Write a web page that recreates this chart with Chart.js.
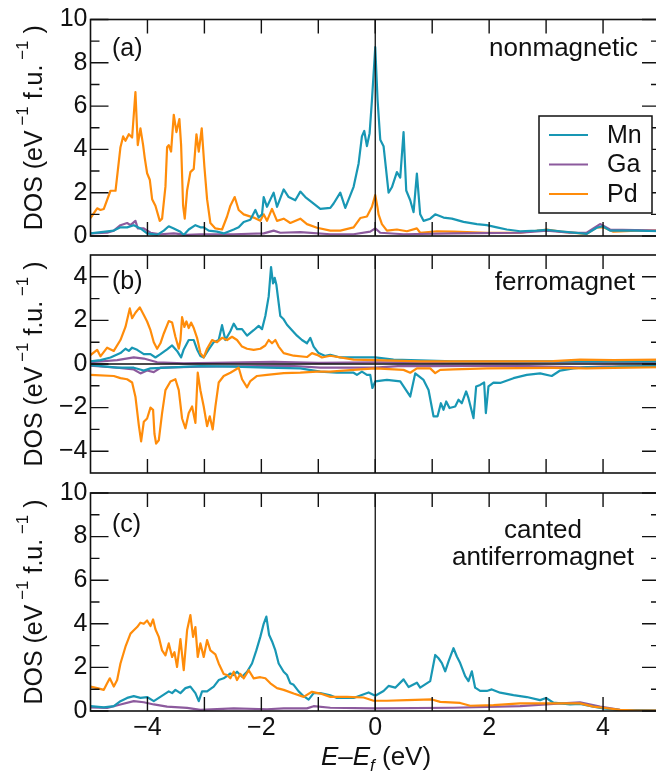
<!DOCTYPE html>
<html lang="en">
<head>
<meta charset="UTF-8">
<title>Mn-Ga-Pd density of states</title>
<style>
  html, body { margin: 0; padding: 0; background: #fff; }
  body { width: 656px; height: 777px; overflow: hidden; position: relative; }
  canvas { position: absolute; left: 0; top: 0; }
</style>
</head>
<body>
<canvas id="panelA" width="664" height="777"></canvas>
<canvas id="panelB" width="664" height="777"></canvas>
<canvas id="panelC" width="664" height="777"></canvas>

<script src="https://cdn.jsdelivr.net/npm/chart.js"></script>
<script>
// ---- (a) nonmagnetic ----
const mnA_E = [-5.0,-4.591,-4.474,-4.357,-4.240,-4.123,-4.006,-3.830,-3.713,-3.626,-3.538,-3.421,-3.363,-3.275,-3.158,-3.070,-3.012,-2.924,-2.778,-2.661,-2.485,-2.398,-2.310,-2.193,-2.105,-2.047,-1.988,-1.959,-1.901,-1.830,-1.784,-1.725,-1.678,-1.608,-1.520,-1.404,-1.316,-1.228,-1.082,-0.965,-0.789,-0.731,-0.614,-0.526,-0.380,-0.292,-0.234,-0.193,-0.146,-0.099,-0.058,0,0.041,0.088,0.146,0.234,0.292,0.380,0.439,0.497,0.544,0.614,0.673,0.731,0.789,0.848,0.965,1.053,1.199,1.345,1.550,1.784,1.959,2.135,2.310,2.544,2.836,3.012,3.246,3.713,3.889,3.994,4.123,4.591,5.0];
const mnA_D = [0.12,0.25,0.4,0.4,0.5,0.35,0.12,0.05,0.25,0.45,0.35,0.2,0.05,0.3,0.5,0.4,0.4,0.25,0.2,0.12,0.3,0.4,0.65,0.75,1.2,0.85,1.0,1.8,1.35,1.75,2.0,1.35,1.67,2.15,1.8,1.65,2.05,1.8,1.5,1.25,1.3,1.5,2.0,1.3,2.27,3.35,4.6,4.85,4.15,4.75,6.27,8.72,6.27,4.45,4.15,2.0,2.25,2.95,2.7,4.8,2.1,1.65,1.1,2.88,1.0,0.7,0.8,1.0,0.85,0.8,0.65,0.55,0.5,0.4,0.3,0.22,0.25,0.28,0.22,0.1,0.38,0.45,0.25,0.25,0.22];

const gaA_E = [-5.0,-4.708,-4.591,-4.474,-4.357,-4.298,-4.211,-4.170,-4.064,-3.947,-3.772,-3.538,-3.304,-3.070,-2.485,-1.959,-1.784,-1.667,-1.316,-0.789,-0.380,-0.088,0,0.088,0.497,1.374,2.544,3.012,3.421,3.713,3.947,4.123,5.0];
const gaA_D = [0.12,0.15,0.25,0.5,0.6,0.5,0.7,0.35,0.35,0.15,0.08,0.12,0.05,0.08,0.08,0.12,0.25,0.15,0.18,0.08,0.08,0.2,0.35,0.15,0.08,0.12,0.15,0.25,0.15,0.15,0.55,0.3,0.25];

const pdA_E = [-5.0,-4.883,-4.825,-4.766,-4.649,-4.561,-4.474,-4.427,-4.386,-4.327,-4.269,-4.211,-4.170,-4.123,-4.076,-4.047,-4.006,-3.959,-3.918,-3.860,-3.784,-3.743,-3.684,-3.655,-3.626,-3.585,-3.538,-3.491,-3.439,-3.409,-3.374,-3.345,-3.304,-3.246,-3.187,-3.140,-3.099,-3.047,-3.0,-2.953,-2.895,-2.807,-2.690,-2.602,-2.544,-2.468,-2.398,-2.310,-2.135,-2.018,-1.959,-1.901,-1.813,-1.725,-1.608,-1.491,-1.316,-1.199,-1.023,-0.789,-0.614,-0.380,-0.263,-0.146,-0.058,0,0.041,0.058,0.117,0.205,0.380,0.556,0.731,0.789,1.082,1.374,1.959,2.544,3.012,3.246,3.713,3.889,4.006,4.181,4.591,5.0];
const pdA_D = [0.83,1.28,1.2,1.25,2.09,2.09,4.1,4.6,4.4,4.7,4.55,6.65,4.2,4.97,4.2,3.6,2.9,2.6,1.7,1.4,0.7,0.8,2.28,4.1,4.2,3.9,5.6,4.8,5.4,4.2,1.4,0.8,2.1,2.95,3.1,4.7,3.9,4.97,3.2,1.7,0.6,0.35,0.3,0.9,1.4,1.8,1.2,1.0,0.85,0.7,1.0,0.7,1.25,0.7,0.8,0.6,0.8,0.55,0.38,0.25,0.25,0.4,0.83,0.9,1.35,1.89,1.3,1.0,0.55,0.25,0.3,0.22,0.35,0.15,0.22,0.2,0.15,0.15,0.3,0.2,0.1,0.4,0.4,0.2,0.25,0.25];

// ---- (b) ferromagnet: majority (up) and minority (down) ----
const mnUpB_E = [-5.0,-4.825,-4.649,-4.474,-4.386,-4.327,-4.269,-4.181,-4.064,-3.947,-3.860,-3.772,-3.655,-3.567,-3.480,-3.409,-3.363,-3.275,-3.187,-3.129,-3.070,-3.012,-2.924,-2.836,-2.749,-2.690,-2.632,-2.544,-2.485,-2.427,-2.339,-2.251,-2.135,-2.047,-1.988,-1.930,-1.871,-1.830,-1.795,-1.766,-1.737,-1.708,-1.667,-1.608,-1.550,-1.462,-1.374,-1.287,-1.199,-1.140,-1.082,-0.994,-0.877,-0.789,-0.614,-0.263,0,0.322,1.374,3.129,5.0];
const mnUpB_D = [0.12,0.18,0.3,0.5,0.7,0.6,0.75,0.65,0.45,0.45,0.3,0.45,0.67,0.85,0.6,0.3,0.67,1.1,1.1,0.67,0.37,0.3,0.67,1.0,1.1,1.78,1.1,1.5,1.85,1.6,1.6,1.3,1.55,1.75,1.6,2.2,3.1,4.45,3.7,3.95,3.65,3.05,2.2,2.05,1.8,1.55,1.3,1.1,0.95,1.2,0.8,0.5,0.37,0.42,0.3,0.3,0.3,0.2,0.12,0.12,0.12];

const mnDnB_E = [-5.0,-4.532,-4.240,-4.064,-3.947,-3.655,-3.070,-2.485,-1.901,-1.316,-0.965,-0.673,-0.380,-0.322,-0.234,-0.146,-0.088,-0.050,0,0.205,0.439,0.614,0.702,0.848,0.936,1.023,1.094,1.152,1.199,1.246,1.304,1.404,1.462,1.520,1.596,1.637,1.725,1.772,1.842,1.912,1.942,1.988,2.076,2.193,2.427,2.661,2.895,3.099,3.246,3.480,3.713,4.006,4.298,5.0];
const mnDnB_D = [-0.05,-0.17,-0.17,-0.3,-0.2,-0.17,-0.1,-0.12,-0.17,-0.2,-0.35,-0.4,-0.4,-0.5,-0.35,-0.5,-0.5,-1.1,-0.8,-0.73,-0.8,-1.49,-0.43,-0.73,-1.19,-2.4,-2.4,-1.8,-2.1,-1.72,-2.02,-1.95,-1.64,-1.8,-1.26,-1.57,-2.48,-1.03,-0.96,-0.85,-2.25,-1.03,-0.85,-0.87,-0.65,-0.5,-0.43,-0.55,-0.3,-0.2,-0.15,-0.17,-0.12,-0.1];

const gaUpB_E = [-5.0,-4.532,-4.240,-4.064,-3.830,-3.363,-1.784,-1.0,0,2.0,3.6,5.0];
const gaUpB_D = [0.08,0.18,0.3,0.25,0.08,0.03,0.1,0.05,0.08,0.05,0.1,0.05];

const gaDnB_E = [-5.0,-4.532,-4.240,-4.123,-4.006,-3.889,-3.772,-3.070,-1.5,-0.965,0,0.4,1.0,2.5,3.6,4.0,5.0];
const gaDnB_D = [-0.08,-0.17,-0.25,-0.43,-0.3,-0.37,-0.17,-0.12,-0.08,-0.17,-0.17,-0.1,-0.1,-0.08,-0.15,-0.12,-0.1];

const pdUpB_E = [-5.0,-4.883,-4.825,-4.708,-4.591,-4.474,-4.386,-4.310,-4.269,-4.211,-4.135,-4.064,-4.006,-3.947,-3.889,-3.830,-3.772,-3.713,-3.626,-3.567,-3.509,-3.450,-3.421,-3.392,-3.351,-3.316,-3.275,-3.234,-3.187,-3.129,-3.070,-3.012,-2.953,-2.865,-2.778,-2.690,-2.602,-2.515,-2.427,-2.339,-2.251,-2.135,-2.018,-1.930,-1.871,-1.813,-1.754,-1.696,-1.608,-1.433,-1.199,-1.111,-1.023,-0.936,-0.789,-0.380,0,0.789,1.959,3.129,3.596,4.181,5.0];
const pdUpB_D = [0.41,0.65,0.35,0.75,0.6,1.1,1.7,2.55,2.1,2.35,2.6,2.25,1.95,1.55,1.0,0.7,0.95,1.4,1.97,1.9,1.25,0.7,1.1,2.15,1.7,1.95,1.65,1.9,1.65,1.2,0.5,0.3,0.7,1.1,1.0,1.2,1.1,1.25,1.1,0.8,0.7,0.65,0.7,0.85,1.1,0.95,1.1,0.8,0.5,0.38,0.32,0.5,0.42,0.3,0.38,0.2,0.18,0.12,0.12,0.13,0.2,0.18,0.2];

const pdDnB_E = [-5.0,-4.591,-4.474,-4.357,-4.269,-4.211,-4.152,-4.111,-4.064,-4.006,-3.947,-3.901,-3.877,-3.848,-3.801,-3.743,-3.684,-3.596,-3.509,-3.450,-3.392,-3.333,-3.275,-3.216,-3.158,-3.117,-3.070,-3.012,-2.953,-2.906,-2.854,-2.807,-2.749,-2.661,-2.544,-2.398,-2.339,-2.251,-2.193,-2.076,-1.901,-1.608,-1.316,-1.023,-0.789,-0.263,0,0.497,0.614,0.731,0.965,1.053,1.140,1.374,1.959,3.129,3.713,4.181,5.0];
const pdDnB_D = [-0.5,-0.55,-0.65,-0.7,-0.85,-1.5,-2.8,-3.55,-2.65,-2.5,-2.0,-2.1,-3.2,-3.65,-3.5,-2.25,-1.2,-0.8,-0.7,-1.2,-2.5,-2.95,-2.25,-1.95,-2.7,-0.4,-1.2,-1.95,-2.85,-2.4,-3.0,-1.95,-0.85,-0.55,-0.4,-0.17,-0.7,-1.07,-0.78,-0.55,-0.5,-0.42,-0.4,-0.35,-0.35,-0.25,-0.2,-0.27,-0.4,-0.2,-0.2,-0.42,-0.27,-0.25,-0.2,-0.18,-0.2,-0.18,-0.15];

// ---- (c) canted antiferromagnet ----
const mnC_E = [-5.0,-4.766,-4.591,-4.474,-4.357,-4.240,-4.123,-4.006,-3.889,-3.801,-3.713,-3.626,-3.567,-3.509,-3.421,-3.333,-3.246,-3.158,-3.099,-3.041,-2.953,-2.836,-2.749,-2.661,-2.544,-2.485,-2.427,-2.339,-2.251,-2.164,-2.088,-2.018,-1.959,-1.912,-1.865,-1.813,-1.754,-1.696,-1.608,-1.550,-1.491,-1.433,-1.345,-1.257,-1.170,-1.082,-0.965,-0.789,-0.673,-0.380,-0.117,0,0.146,0.234,0.351,0.497,0.585,0.731,0.789,0.965,1.053,1.111,1.170,1.228,1.287,1.374,1.433,1.491,1.579,1.637,1.696,1.754,1.842,1.959,2.047,2.193,2.427,2.661,2.895,2.999,3.129,3.421,3.596,3.830,4.006,4.298,5.0];
const mnC_D = [0.22,0.17,0.22,0.45,0.6,0.68,0.6,0.64,0.45,0.6,0.75,0.9,0.82,0.97,0.82,1.05,1.12,0.82,0.45,0.9,0.9,1.12,1.42,1.5,1.72,1.65,1.8,1.57,1.8,2.18,2.78,3.4,4.0,4.33,3.5,3.2,2.78,2.18,1.8,1.65,1.27,1.2,0.9,0.68,0.52,0.82,0.82,0.72,0.6,0.6,0.85,0.7,0.92,1.15,1.07,1.45,1.1,1.3,1.07,1.37,2.57,2.42,2.2,1.82,2.28,2.88,2.5,2.2,1.6,1.37,1.82,1.07,0.92,0.92,0.99,0.84,0.73,0.64,0.5,0.6,0.38,0.3,0.33,0.2,0.12,0.04,0.02];

const gaC_E = [-5.0,-4.708,-4.474,-4.240,-4.064,-3.889,-3.655,-3.304,-3.070,-2.485,-1.901,-1.608,-1.199,-1.082,-0.789,0,1.374,2.544,3.129,3.596,3.947,4.298,5.0];
const gaC_D = [0.17,0.14,0.3,0.45,0.4,0.3,0.2,0.14,0.05,0.12,0.08,0.12,0.12,0.22,0.15,0.12,0.15,0.22,0.33,0.4,0.2,0.05,0.02];

const pdC_E = [-5.0,-4.883,-4.766,-4.708,-4.661,-4.591,-4.532,-4.474,-4.386,-4.298,-4.240,-4.181,-4.123,-4.064,-4.006,-3.947,-3.901,-3.860,-3.801,-3.743,-3.684,-3.626,-3.567,-3.526,-3.480,-3.421,-3.363,-3.304,-3.246,-3.199,-3.158,-3.117,-3.070,-3.012,-2.953,-2.895,-2.807,-2.749,-2.661,-2.602,-2.544,-2.485,-2.427,-2.368,-2.310,-2.222,-2.135,-2.018,-1.930,-1.842,-1.725,-1.608,-1.433,-1.257,-1.111,-0.965,-0.789,-0.497,-0.205,-0.029,0.205,0.556,0.994,1.140,1.491,1.667,2.076,2.544,3.129,3.596,3.830,4.006,4.298,4.591,5.0];
const pdC_D = [1.12,1.05,0.97,1.27,1.5,1.12,1.42,2.18,2.95,3.55,3.7,3.85,4.05,4.0,4.15,3.9,4.2,3.75,3.4,2.78,2.55,3.1,2.48,2.7,2.02,3.3,1.87,3.7,4.4,3.4,3.85,2.48,3.1,2.48,3.25,2.78,2.6,2.18,1.7,1.65,1.5,1.8,1.42,1.7,1.5,1.87,1.5,1.55,1.5,1.27,1.05,0.97,0.8,0.65,0.88,0.8,0.65,0.65,0.62,0.47,0.47,0.5,0.53,0.42,0.37,0.24,0.27,0.35,0.35,0.35,0.2,0.15,0.05,0.02,0.02];

// axis ticks
const xLabelVals = [-4, -2, 0, 2, 4];
const xMarkVals = [-4, -3, -2, -1, 0, 1, 2, 3, 4];
const yMajorDos = [0, 2, 4, 6, 8, 10];
const yMinorDos = [1, 3, 5, 7, 9];
const yMajorSpin = [-4, -2, 0, 2, 4];
const yMinorSpin = [-3, -1, 1, 3];

const COLORS = { Mn: '#1897b4', Ga: '#8c5a9d', Pd: '#ff8c0a' };
const FONT = '"Liberation Sans", Arial, Helvetica, sans-serif';
const INK = '#111';

function pts(es, ds) {
    return es.map(function (e, i) { return { x: e, y: ds[i] }; });
}

function series(label, es, ds) {
    return {
        label: label,
        data: pts(es, ds),
        borderColor: COLORS[label],
        borderWidth: 2.2,
        borderJoinStyle: 'round',
        pointRadius: 0,
        tension: 0,
        fill: false
    };
}

function fmt(v) {
    return v < 0 ? '\u2212' + Math.abs(v) : String(v);
}

// draw a run of text pieces [text, size, style, dy] side by side
function richText(ctx, parts, x, y, align) {
    var w = 0;
    parts.forEach(function (p) {
        ctx.font = (p[2] || '') + ' ' + p[1] + 'px ' + FONT;
        w += ctx.measureText(p[0]).width;
    });
    var cx = align === 'center' ? x - w / 2 : x;
    parts.forEach(function (p) {
        ctx.font = (p[2] || '') + ' ' + p[1] + 'px ' + FONT;
        ctx.fillText(p[0], cx, y + (p[3] || 0));
        cx += ctx.measureText(p[0]).width;
    });
}

const yTitle = [
    ['DOS (eV', 25], [' \u22121', 17, '', -14], [' f.u.', 25], [' \u22121', 17, '', -14], [' )', 25]
];
const xTitle = [
    ['E', 26, 'italic'], ['\u2013', 26], ['E', 26, 'italic'], ['f', 17, 'italic', 6], [' (eV)', 26]
];

// frame, inward ticks, zero lines, annotations
const decor = {
    id: 'decor',
    afterDatasetsDraw: function (chart, args, o) {
        var ctx = chart.ctx, a = chart.chartArea;
        var xs = chart.scales.x, ys = chart.scales.y;
        ctx.save();
        ctx.strokeStyle = INK;

        ctx.lineWidth = 1.3;
        ctx.beginPath();
        var x0 = xs.getPixelForValue(0);
        ctx.moveTo(x0, a.top);
        ctx.lineTo(x0, a.bottom);
        if (o.zeroLine) {
            var y0 = ys.getPixelForValue(0);
            ctx.moveTo(a.left, y0);
            ctx.lineTo(a.right, y0);
        }
        ctx.stroke();

        ctx.lineWidth = 1.4;
        ctx.beginPath();
        xMarkVals.forEach(function (v) {
            var px = xs.getPixelForValue(v);
            ctx.moveTo(px, a.bottom); ctx.lineTo(px, a.bottom - 14);
            ctx.moveTo(px, a.top); ctx.lineTo(px, a.top + 14);
        });
        o.yMajor.forEach(function (v) {
            var py = ys.getPixelForValue(v);
            ctx.moveTo(a.left, py); ctx.lineTo(a.left + 18, py);
            ctx.moveTo(a.right, py); ctx.lineTo(a.right - 18, py);
        });
        o.yMinor.forEach(function (v) {
            var py = ys.getPixelForValue(v);
            ctx.moveTo(a.left, py); ctx.lineTo(a.left + 9, py);
            ctx.moveTo(a.right, py); ctx.lineTo(a.right - 9, py);
        });
        ctx.stroke();

        ctx.lineWidth = 1.6;
        ctx.strokeRect(a.left, a.top, a.right - a.left, a.bottom - a.top);

        ctx.fillStyle = INK;
        ctx.textBaseline = 'alphabetic';
        ctx.textAlign = 'left';
        ctx.font = '25px ' + FONT;
        ctx.fillText(o.tag, a.left + 21.5, a.top + o.tagDy);

        ctx.font = '26px ' + FONT;
        ctx.textAlign = o.noteAlign;
        o.note.forEach(function (line, i) {
            ctx.fillText(line, o.noteX, a.top + o.noteDy + i * 27);
        });

        // rotated axis title
        ctx.save();
        ctx.translate(42, (a.top + a.bottom) / 2);
        ctx.rotate(-Math.PI / 2);
        ctx.textAlign = 'left';
        richText(ctx, yTitle, 0, 0, 'center');
        ctx.restore();

        if (o.legend) {
            ctx.fillStyle = '#fff';
            ctx.fillRect(539, 116, 113, 97);
            ctx.lineWidth = 1.5;
            ctx.strokeRect(539, 116, 113, 97);
            ctx.font = '25px ' + FONT;
            ctx.textAlign = 'left';
            ctx.textBaseline = 'middle';
            chart.data.datasets.forEach(function (ds, i) {
                var ly = 135 + i * 29.5;
                ctx.strokeStyle = ds.borderColor;
                ctx.lineWidth = 2.2;
                ctx.beginPath();
                ctx.moveTo(549, ly); ctx.lineTo(588, ly);
                ctx.stroke();
                ctx.fillStyle = INK;
                ctx.fillText(ds.label, 607, ly + 1);
            });
        }

        if (o.xTitle) {
            ctx.fillStyle = INK;
            ctx.textAlign = 'left';
            ctx.textBaseline = 'alphabetic';
            richText(ctx, xTitle, 376, 765, 'center');
        }
        ctx.restore();
    }
};

function makePanel(id, datasets, yMin, yMax, yMajor, yMinor, top, bottom, showX, deco) {
    return new Chart(document.getElementById(id), {
        type: 'line',
        data: { datasets: datasets },
        options: {
            responsive: false,
            animation: false,
            devicePixelRatio: 1,
            layout: { padding: { top: top, left: 0, right: 4, bottom: 0 } },
            plugins: { legend: { display: false }, tooltip: { enabled: false }, decor: deco },
            scales: {
                x: {
                    type: 'linear', min: -5, max: 5,
                    grid: { display: false, drawTicks: false },
                    border: { display: false },
                    afterBuildTicks: function (s) { s.ticks = xLabelVals.map(function (v) { return { value: v }; }); },
                    afterFit: function (s) { s.height = 777 - bottom; s.paddingLeft = 0; s.paddingRight = 0; },
                    ticks: {
                        display: showX, padding: 2, maxRotation: 0, color: INK,
                        font: { family: FONT, size: 25 },
                        callback: fmt
                    }
                },
                y: {
                    type: 'linear', min: yMin, max: yMax,
                    grid: { display: false, drawTicks: false },
                    border: { display: false },
                    afterBuildTicks: function (s) { s.ticks = yMajor.map(function (v) { return { value: v }; }); },
                    afterFit: function (s) { s.width = 90.5; s.paddingTop = 0; s.paddingBottom = 0; },
                    ticks: {
                        padding: 3, color: INK,
                        font: { family: FONT, size: 25 },
                        callback: fmt
                    }
                }
            }
        },
        plugins: [decor]
    });
}

makePanel('panelA', [
    series('Mn', mnA_E, mnA_D),
    series('Ga', gaA_E, gaA_D),
    series('Pd', pdA_E, pdA_D)
], 0, 10, yMajorDos, yMinorDos, 19.5, 236, false, {
    tag: '(a)', tagDy: 36, note: ['nonmagnetic'], noteAlign: 'right', noteX: 638, noteDy: 36,
    yMajor: yMajorDos, yMinor: yMinorDos, legend: true
});

makePanel('panelB', [
    series('Pd', pdUpB_E, pdUpB_D),
    series('Pd', pdDnB_E, pdDnB_D),
    series('Mn', mnUpB_E, mnUpB_D),
    series('Mn', mnDnB_E, mnDnB_D),
    series('Ga', gaUpB_E, gaUpB_D),
    series('Ga', gaDnB_E, gaDnB_D)
], -5, 5, yMajorSpin, yMinorSpin, 255, 473, false, {
    tag: '(b)', tagDy: 34, note: ['ferromagnet'], noteAlign: 'right', noteX: 635, noteDy: 35,
    yMajor: yMajorSpin, yMinor: yMinorSpin, zeroLine: true
});

makePanel('panelC', [
    series('Pd', pdC_E, pdC_D),
    series('Mn', mnC_E, mnC_D),
    series('Ga', gaC_E, gaC_D)
], 0, 10, yMajorDos, yMinorDos, 493, 711, true, {
    tag: '(c)', tagDy: 39, note: ['canted', 'antiferromagnet'], noteAlign: 'center', noteX: 543, noteDy: 45,
    yMajor: yMajorDos, yMinor: yMinorDos, xTitle: true
});
</script>
</body>
</html>
